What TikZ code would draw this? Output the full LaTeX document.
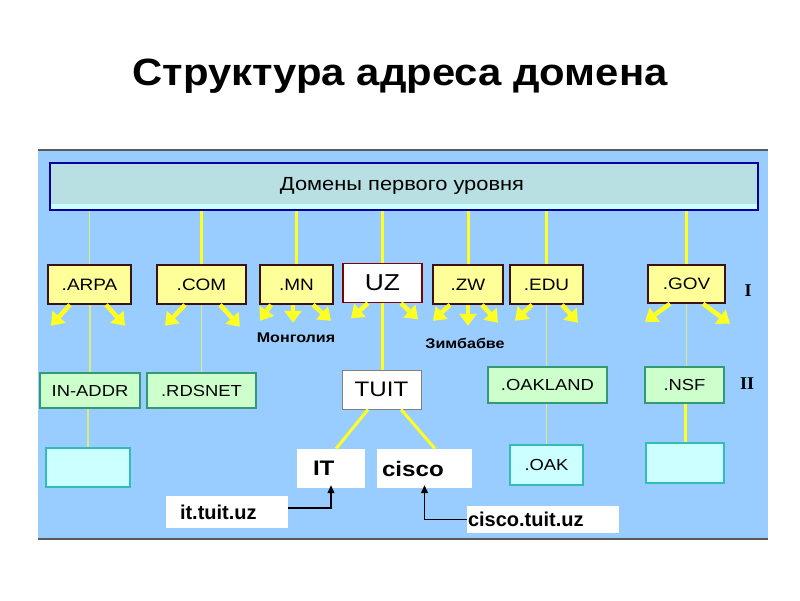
\documentclass[tikz,border=0pt]{standalone}
\usepackage{fontspec}
\setmainfont{Liberation Sans}
\newfontfamily\wide[FakeStretch=1.15]{Liberation Sans}
\newfontfamily\titlefont[FakeStretch=1.1]{Liberation Sans}
\newfontfamily\serifb{Liberation Serif}
\usetikzlibrary{arrows.meta,calc}
\definecolor{panel}{HTML}{99CCFF}
\definecolor{hdrfill}{HTML}{B8DFE2}
\definecolor{hdrlight}{HTML}{CCFFFF}
\definecolor{hdrborder}{HTML}{0000A0}
\definecolor{lvone}{HTML}{FFFF99}
\definecolor{lvoneb}{HTML}{401010}
\definecolor{grn}{HTML}{CCFFCC}
\definecolor{grnb}{HTML}{339977}
\definecolor{cyn}{HTML}{CCFFFF}
\definecolor{cynb}{HTML}{33BBBB}
\definecolor{yel}{HTML}{FFFF22}
\definecolor{paleyel}{HTML}{DDEE77}
\tikzset{
  lvbox/.style={draw=lvoneb, fill=lvone, line width=1.5pt, inner sep=0pt, font=\wide\fontsize{16.5}{16.5}\selectfont},
  grbox/.style={draw=grnb, fill=grn, line width=1.5pt, inner sep=0pt, font=\wide\fontsize{16}{16}\selectfont},
  cybox/.style={draw=cynb, fill=cyn, line width=1.5pt, inner sep=0pt, font=\wide\fontsize{16}{16}\selectfont},
  whbox/.style={fill=white, inner ysep=0pt, font=\wide\bfseries\fontsize{21}{21}\selectfont, align=left},
  thick conn/.style={draw=yel, line width=3pt},
  thin conn/.style={draw=paleyel, line width=1.5pt},
  fan/.style={draw=yel, line width=4.5pt, -{Triangle[width=17pt,length=12pt]}},
  blk/.style={draw=black, line width=1.2pt, -{Triangle[width=7pt,length=8pt]}},
}
\begin{document}
\begin{tikzpicture}[x=1pt,y=-1pt]
\useasboundingbox (0,0) rectangle (800,600);
\fill[white] (0,0) rectangle (800,600);
% title
\node[font=\titlefont\bfseries\fontsize{38}{38}\selectfont] (title) at (400,76) {Структура адреса домена};
% panel
\fill[panel] (38,150) rectangle (768,539);
\draw[gray!70!black, line width=2pt] (38,150) -- (768,150);
\draw[gray!70!black, line width=1.5pt] (38,539) -- (768,539);
% header
\node[draw=hdrborder, fill=hdrlight, line width=2pt, minimum width=708pt, minimum height=47pt, inner sep=0pt] (hdr) at (404,186.5) {};
\fill[hdrfill] ($(hdr.north west)+(1.5,1.5)$) rectangle ($(hdr.south east)+(-2.5,-7)$);
\node[font=\wide\fontsize{19}{19}\selectfont] (hdrtext) at (402,186) {Домены первого уровня};
% level I
\node[lvbox, minimum width=83pt, minimum height=39pt] (arpa) at (89.5,284.5) {.ARPA};
\node[lvbox, minimum width=89pt, minimum height=39pt] (com) at (201.5,284.5) {.COM};
\node[lvbox, minimum width=73pt, minimum height=39pt] (mn) at (296.5,284.5) {.MN};
\node[lvbox, draw=red!50!black, fill=white, minimum width=79pt, minimum height=39pt, font=\wide\fontsize{23}{23}\selectfont] (uz) at (382.5,283) {UZ};
\node[lvbox, minimum width=70pt, minimum height=39pt] (zw) at (468,284.5) {.ZW};
\node[lvbox, minimum width=73pt, minimum height=39pt] (edu) at (546.5,284.5) {.EDU};
\node[lvbox, minimum width=77pt, minimum height=38pt] (gov) at (686.5,284) {.GOV};
\node[font=\serifb\bfseries\fontsize{18}{18}\selectfont] (lI) at (748,291) {I};
% header connectors
\draw[thin conn] (arpa.north |- hdr.south) -- (arpa.north);
\draw[thick conn] (com.north |- hdr.south) -- (com.north);
\draw[thick conn] (mn.north |- hdr.south) -- (mn.north);
\draw[thick conn] (uz.north |- hdr.south) -- (uz.north);
\draw[thick conn] (zw.north |- hdr.south) -- (zw.north);
\draw[thick conn] (edu.north |- hdr.south) -- (edu.north);
\draw[thick conn] (gov.north |- hdr.south) -- (gov.north);
% level II
\node[grbox, minimum width=100pt, minimum height=35pt] (inaddr) at (90,390.5) {IN-ADDR};
\node[grbox, minimum width=109pt, minimum height=35pt] (rdsnet) at (201.5,390.5) {.RDSNET};
\node[draw=gray, fill=white, line width=0.8pt, inner sep=0pt, minimum width=79pt, minimum height=39pt, font=\wide\fontsize{21}{21}\selectfont] (tuit) at (381.5,389.5) {TUIT};
\node[grbox, minimum width=119pt, minimum height=36pt] (oakland) at (547.5,385) {.OAKLAND};
\node[grbox, minimum width=79pt, minimum height=36pt] (nsf) at (684.5,385) {.NSF};
\node[font=\serifb\bfseries\fontsize{18}{18}\selectfont] (lII) at (747,384) {II};
% level I -> II
\draw[thin conn] (inaddr.north |- arpa.south) -- (inaddr.north);
\draw[thin conn] (rdsnet.north |- com.south) -- (rdsnet.north);
\draw[thick conn] (tuit.north -| uz.south) -- (uz.south);
\draw[thin conn] (oakland.north -| edu.south) -- (edu.south);
\draw[thin conn] (nsf.north -| gov.south) -- (gov.south);
% level III
\node[cybox, minimum width=84pt, minimum height=39pt] (ea) at (88,467.5) {};
\node[whbox, text width=36pt, inner xsep=16pt, minimum height=39pt] (it) at (331,468.5) {IT};
\node[whbox, text width=85pt, inner xsep=5pt, minimum height=39pt] (cisco) at (424.5,468.5) {cisco};
\node[cybox, minimum width=73pt, minimum height=40pt] (oak) at (546.5,465) {.OAK};
\node[cybox, minimum width=78pt, minimum height=40pt] (eb) at (685,463) {};
\draw[thin conn] (inaddr.south -| ea.north) -- (ea.north);
\draw[thin conn] (oak.north |- oakland.south) -- (oak.north);
\draw[thick conn] (eb.north |- nsf.south) -- (eb.north);
\draw[thick conn] ([xshift=-13.5pt]tuit.south) -- ([xshift=5pt]it.north);
\draw[thick conn] ([xshift=19.5pt]tuit.south) -- ([xshift=10.5pt]cisco.north);
% addresses
\node[whbox, text width=94pt, inner xsep=14pt, minimum height=32pt, font=\bfseries\fontsize{20}{20}\selectfont] (ittuit) at (227,512) {it.tuit.uz};
\node[whbox, text width=150pt, inner xsep=1pt, minimum height=27pt, font=\bfseries\fontsize{20}{20}\selectfont] (ciscotuit) at (543,519.5) {cisco.tuit.uz};
\draw[blk] ([yshift=4pt]ittuit.east) -| ([yshift=3pt]it.south);
\draw[blk] (ciscotuit.west) -| ([yshift=3pt]cisco.south);
% fan arrows
\draw[fan] ([xshift=-19.5pt]arpa.south) -- ++(-19,21);
\draw[fan] ([xshift=16.5pt]arpa.south) -- ++(19,21);
\draw[fan] ([xshift=-16.5pt]com.south) -- ++(-20,21);
\draw[fan] ([xshift=18.5pt]com.south) -- ++(20,22);
\draw[fan] ([xshift=-25.5pt]mn.south) -- ++(-11,16);
\draw[fan] ([xshift=-3.5pt]mn.south) -- ++(0,18);
\draw[fan] ([xshift=16.5pt]mn.south) -- ++(18,16);
\draw[fan] ([xshift=-14.5pt]uz.south) -- ++(-17,15);
\draw[fan] ([xshift=18.5pt]uz.south) -- ++(17,16);
\draw[fan] ([xshift=-18pt]zw.south) -- ++(-17,16);
\draw[fan] (zw.south) -- ++(0,21);
\draw[fan] ([xshift=14pt]zw.south) -- ++(16,18);
\draw[fan] ([xshift=-14.5pt]edu.south) -- ++(-17,16);
\draw[fan] ([xshift=15.5pt]edu.south) -- ++(16,18);
\draw[fan] ([xshift=-16.5pt]gov.south) -- ++(-25,18);
\draw[fan] ([xshift=16.5pt]gov.south) -- ++(27,20);
% country labels
\node[font=\wide\bfseries\fontsize{14}{14}\selectfont] (mong) at (296,338) {Монголия};
\node[font=\wide\bfseries\fontsize{14}{14}\selectfont] (zimb) at (465,343) {Зимбабве};
\end{tikzpicture}
\end{document}
